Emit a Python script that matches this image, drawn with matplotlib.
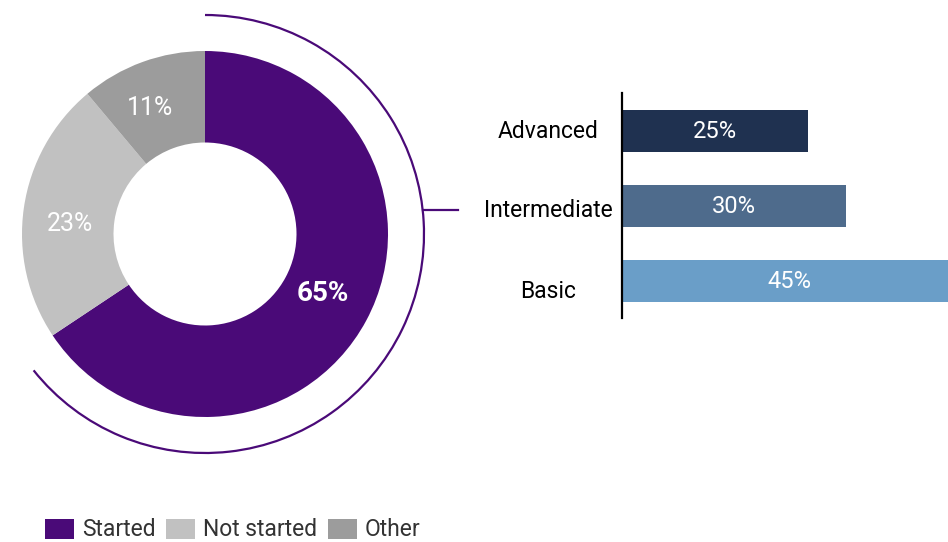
import numpy as np
import matplotlib.pyplot as plt
import matplotlib.transforms as mtransforms
from matplotlib.patches import Arc, Patch

# donut data
status = ["Started", "Not started", "Other"]
status_pct = [65, 23, 11]
status_colors = ["#4a0a78", "#c1c1c1", "#9c9c9c"]

# bar data
levels = ["Advanced", "Intermediate", "Basic"]
level_pct = [25, 30, 45]
level_colors = ["#1f3150", "#4e6b8c", "#6a9ec8"]

plt.rcParams["font.family"] = ["Roboto", "DejaVu Sans"]

W, H = 948, 542
fig = plt.figure(figsize=(W / 100, H / 100), dpi=100)

# donut, centre at (205, 234) px, outer radius 183 px
cx, cy, R = 205, 234, 183
half = 250
ax = fig.add_axes([(cx - half) / W, (H - cy - half) / H, 2 * half / W, 2 * half / H])
wedges, _ = ax.pie(status_pct, colors=status_colors, startangle=90, counterclock=False,
                   radius=1, wedgeprops=dict(width=0.5, linewidth=0))
ax.set_xlim(-half / R, half / R)
ax.set_ylim(-half / R, half / R)
ax.set_aspect("equal")
ax.axis("off")

label_style = [dict(fontweight="bold", fontsize=20), dict(fontsize=18), dict(fontsize=18)]
label_r = [0.72, 0.74, 0.75]
label_shift = [1.5, 4, 3.5]
for w, txt, st, r, d in zip(wedges, status_pct, label_style, label_r, label_shift):
    ang = np.deg2rad((w.theta1 + w.theta2) / 2 + d)
    ax.text(r * np.cos(ang), r * np.sin(ang), f"{txt}%", color="white",
            ha="center", va="center", **st)

# outer bracket arc around the "Started" segment
arc_r = 219 / R
purple = status_colors[0]
ax.add_patch(Arc((0, 0), 2 * arc_r, 2 * arc_r, theta1=-141.5, theta2=90,
                 color=purple, lw=1.6, clip_on=False))
ly = (cy - 210) / R
lx0 = np.sqrt(arc_r ** 2 - ly ** 2)
ax.plot([lx0, (458 - cx) / R], [ly, ly], color=purple, lw=1.6, clip_on=False)

# horizontal bars
bx0, bx1 = 622, 948
by_top, by_bot = 93, 318
px_per_pct = 7.45
bax = fig.add_axes([bx0 / W, (H - by_bot) / H, (bx1 - bx0) / W, (by_bot - by_top) / H])
ypos = np.arange(len(levels))
bax.barh(ypos, level_pct, height=0.56, color=level_colors)
bax.set_xlim(0, (bx1 - bx0) / px_per_pct)
bax.set_ylim(2.49, -0.51)
for y, v in zip(ypos, level_pct):
    bax.text(v / 2, y, f"{v}%", color="white", ha="center", va="center",
             fontsize=17, clip_on=False)
bax.set_yticks(ypos)
bax.set_yticklabels(levels, fontsize=16.5, ha="center")
bax.tick_params(axis="y", length=0, pad=(bx0 - 548) * 0.72)
# category labels sit a little lower than the bar centres in the original
for lab, dy in zip(bax.get_yticklabels(), [1.5, -1.5, -5.5]):
    lab.set_transform(lab.get_transform() +
                      mtransforms.ScaledTranslation(0, dy / 72, fig.dpi_scale_trans))
bax.set_xticks([])
for s in ["top", "right", "bottom"]:
    bax.spines[s].set_visible(False)
bax.spines["left"].set_linewidth(1.6)
bax.spines["left"].set_color("black")

# legend
handles = [Patch(facecolor=c, edgecolor="none") for c in status_colors]
fig.legend(handles, status, loc="center left", bbox_to_anchor=(45 / W, (H - 530) / H), ncol=3,
           frameon=False, fontsize=16.5, handlelength=1.27, handleheight=0.96,
           handletextpad=0.35, columnspacing=0.45, borderpad=0, borderaxespad=0,
           labelcolor="#333333")

fig.savefig("out.png", dpi=100)
